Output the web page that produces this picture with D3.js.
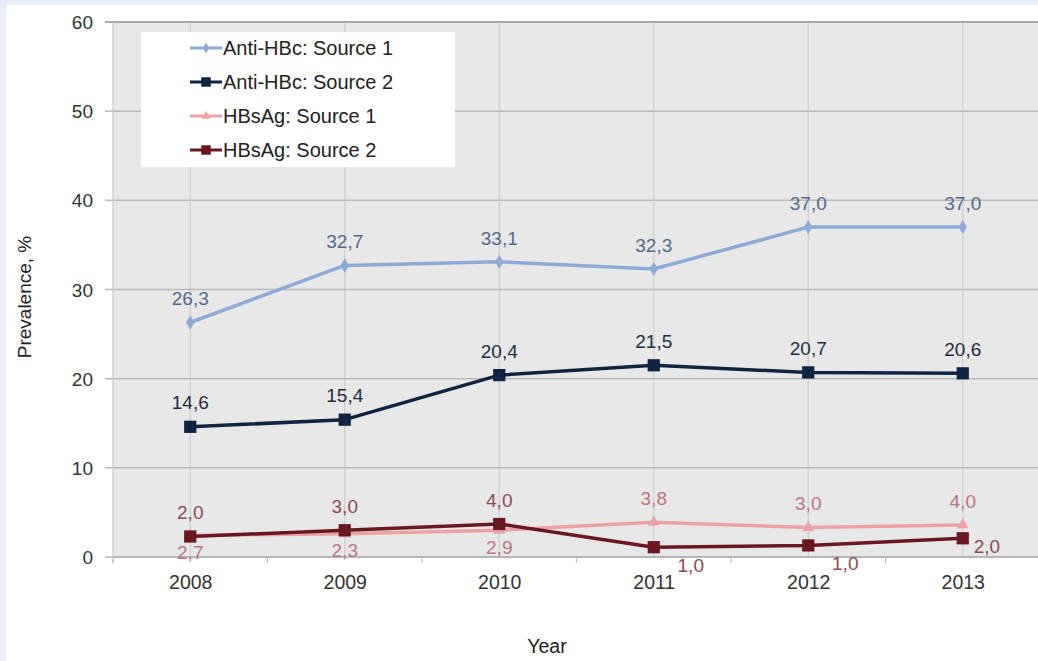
<!DOCTYPE html>
<html><head><meta charset="utf-8">
<script src="https://cdn.jsdelivr.net/npm/d3@7"></script>
<style>
html,body{margin:0;padding:0;background:#e9edfb;}
svg{display:block;}
text{font-family:"Liberation Sans",Arial,sans-serif;}
</style></head>
<body>
<script>
// ---- data ----
const years = ["2008","2009","2010","2011","2012","2013"];
const antiS1 = [26.3, 32.7, 33.1, 32.3, 37.0, 37.0];
const antiS2 = [14.6, 15.4, 20.4, 21.5, 20.7, 20.6];
const hbsS1 = [2.4, 2.6, 3.0, 3.9, 3.3, 3.6];
const hbsS2 = [2.3, 3.0, 3.7, 1.1, 1.3, 2.1];
const antiS1Labels = ["26,3","32,7","33,1","32,3","37,0","37,0"];
const antiS2Labels = ["14,6","15,4","20,4","21,5","20,7","20,6"];
const hbsS1Labels = ["2,7","2,3","2,9","3,8","3,0","4,0"];
const hbsS2Labels = ["2,0","3,0","4,0","1,0","1,0","2,0"];
const yTicks = [0,10,20,30,40,50,60];
const seriesNames = ["Anti-HBc: Source 1","Anti-HBc: Source 2","HBsAg: Source 1","HBsAg: Source 2"];

// ---- layout / style ----
const W = 1038, H = 661;
const FS = 19;
const plot = {left:113, right:1040, top:22, bottom:557};
const series = [
  {name:seriesNames[0], values:antiS1, labels:antiS1Labels, color:"#8eaad6", labelColor:"#53698c", marker:"diamond", size:60, width:3.5,
   place:["above","above","above","above","above","above"]},
  {name:seriesNames[1], values:antiS2, labels:antiS2Labels, color:"#0f2343", labelColor:"#1e2c44", marker:"square", size:150, width:3.5,
   place:["above","above","above","above","above","above"]},
  {name:seriesNames[2], values:hbsS1, labels:hbsS1Labels, color:"#eba3a6", labelColor:"#bd7480", marker:"triangle", size:60, width:3.5,
   place:["below","below","below","above","above","above"]},
  {name:seriesNames[3], values:hbsS2, labels:hbsS2Labels, color:"#6a1820", labelColor:"#8c4a55", marker:"square", size:150, width:3.5,
   place:["above","above","above","belowright","belowright","right"]}
];
const symType = {diamond:d3.symbolDiamond, square:d3.symbolSquare, triangle:d3.symbolTriangle};

const svg = d3.select("body").append("svg").attr("width",W).attr("height",H);
svg.append("rect").attr("x",6).attr("y",5).attr("width",W-6).attr("height",H-5).attr("fill","#ffffff");

const x = d3.scalePoint().domain(years).range([plot.left, plot.right]).padding(0.5);
const y = d3.scaleLinear().domain([0,60]).range([plot.bottom, plot.top]);

// plot background
svg.append("rect").attr("x",plot.left).attr("y",plot.top).attr("width",plot.right-plot.left).attr("height",plot.bottom-plot.top).attr("fill","#e8e8e8");

// vertical grid
svg.append("g").selectAll("line").data(years).join("line")
  .attr("x1",d=>x(d)).attr("x2",d=>x(d)).attr("y1",plot.top).attr("y2",plot.bottom)
  .attr("stroke","#cdcdcd").attr("stroke-width",1.2);

// horizontal grid
svg.append("g").selectAll("line").data(yTicks).join("line")
  .attr("x1",plot.left-8).attr("x2",plot.right).attr("y1",d=>y(d)).attr("y2",d=>y(d))
  .attr("stroke",d=>d===60?"#a8a8a8":"#b9b9b9").attr("stroke-width",d=>d===60?2:1.5);

// left axis line
svg.append("line").attr("x1",plot.left).attr("x2",plot.left).attr("y1",plot.top).attr("y2",plot.bottom+6)
  .attr("stroke","#c8c8c8").attr("stroke-width",1.2);

// y axis labels
const yAxis = d3.axisLeft(y).tickValues(yTicks).tickSize(0).tickPadding(0);
const gy = svg.append("g").attr("transform",`translate(93,0)`).call(yAxis);
gy.select(".domain").remove();
gy.selectAll("text").attr("font-size",FS).attr("fill","#333").attr("font-family","Liberation Sans, Arial, sans-serif").attr("dy","0.35em");

// x axis
const step = x.step();
const bounds = d3.range(years.length+1).map(i=>plot.left + i*step);
svg.append("line").attr("x1",plot.left).attr("x2",plot.right).attr("y1",plot.bottom).attr("y2",plot.bottom)
  .attr("stroke","#b0b0b0").attr("stroke-width",1.5);
svg.append("g").selectAll("line").data(bounds).join("line")
  .attr("x1",d=>d).attr("x2",d=>d).attr("y1",plot.bottom).attr("y2",plot.bottom+6)
  .attr("stroke","#c0c0c0").attr("stroke-width",1.2);
const xAxis = d3.axisBottom(x).tickSize(0).tickPadding(0);
const gx = svg.append("g").attr("transform",`translate(0,${plot.bottom+25})`).call(xAxis);
gx.select(".domain").remove();
gx.selectAll("text").attr("font-size",FS+0.5).attr("fill","#333").attr("font-family","Liberation Sans, Arial, sans-serif").attr("dy","0.35em");

// axis titles
svg.append("text").attr("transform","translate(24,297) rotate(-90)").attr("text-anchor","middle").attr("dy","0.35em")
  .attr("font-size",FS).attr("fill","#222").text("Prevalence, %");
svg.append("text").attr("x",547).attr("y",646).attr("text-anchor","middle").attr("dy","0.35em")
  .attr("font-size",FS+0.5).attr("fill","#222").text("Year");

// lines + markers
const line = d3.line().x((d,i)=>x(years[i])).y(d=>y(d));
series.forEach(s=>{
  svg.append("path").datum(s.values).attr("d",line).attr("fill","none").attr("stroke",s.color).attr("stroke-width",s.width).attr("stroke-linejoin","round");
  svg.append("g").selectAll("path").data(s.values).join("path")
    .attr("transform",(d,i)=>`translate(${x(years[i])},${y(d)})`)
    .attr("d",d3.symbol().type(symType[s.marker]).size(s.size)).attr("fill",s.color);
});

// data labels
const offs = {above:{dx:0,dy:-24,anchor:"middle"}, below:{dx:0,dy:17,anchor:"middle"},
  belowright:{dx:37,dy:18,anchor:"middle"}, right:{dx:11,dy:8,anchor:"start"}};
series.forEach(s=>{
  svg.append("g").selectAll("text").data(s.values).join("text")
    .attr("x",(d,i)=>x(years[i])+offs[s.place[i]].dx)
    .attr("y",(d,i)=>y(d)+offs[s.place[i]].dy)
    .attr("text-anchor",(d,i)=>offs[s.place[i]].anchor)
    .attr("dy","0.35em").attr("font-size",FS).attr("fill",s.labelColor)
    .text((d,i)=>s.labels[i]);
});

// legend
const lg = svg.append("g");
lg.append("rect").attr("x",141).attr("y",32).attr("width",314).attr("height",135).attr("fill","#ffffff");
const rowsY = [48,82,116,150];
series.forEach((s,i)=>{
  lg.append("line").attr("x1",190).attr("x2",222).attr("y1",rowsY[i]).attr("y2",rowsY[i]).attr("stroke",s.color).attr("stroke-width",3);
  lg.append("path").attr("transform",`translate(206,${rowsY[i]})`).attr("d",d3.symbol().type(symType[s.marker]).size(s.size*0.6)).attr("fill",s.color);
  lg.append("text").attr("x",223).attr("y",rowsY[i]).attr("dy","0.35em").attr("font-size",FS+1).attr("fill","#222").text(s.name);
});
</script>
</body></html>
